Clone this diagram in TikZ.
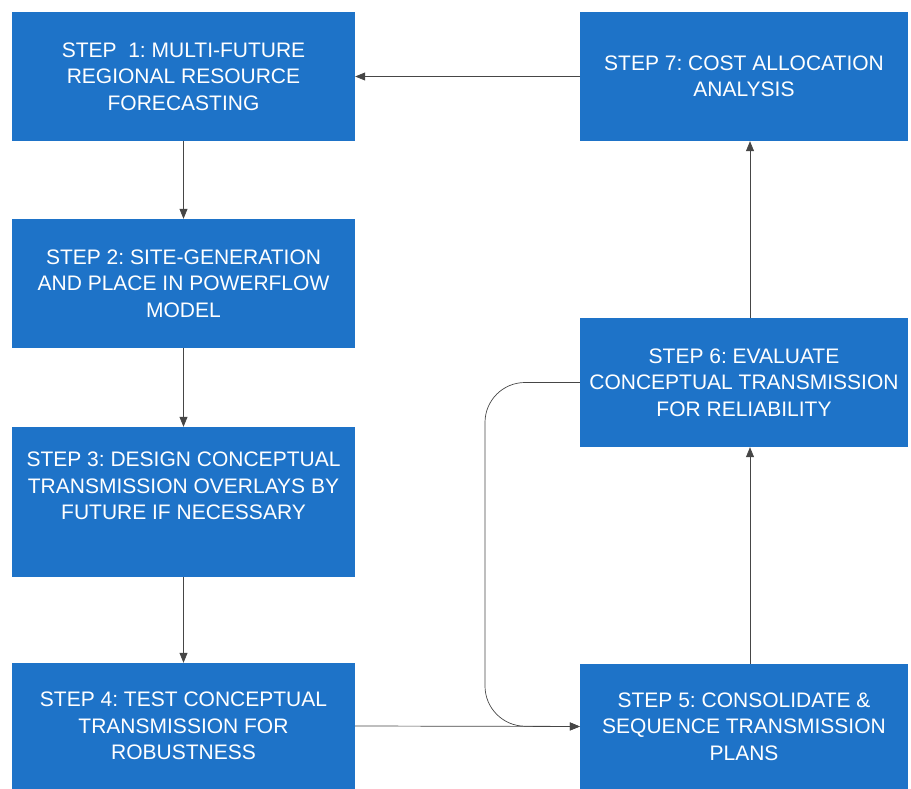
\documentclass[tikz,border=0pt]{standalone}
\usepackage{fontspec}
\setmainfont{Liberation Sans}
\usetikzlibrary{arrows.meta,positioning}
\definecolor{boxblue}{RGB}{30,115,200}
\definecolor{linegray}{RGB}{70,70,70}
\tikzset{
  stepbox/.style={fill=boxblue, draw=none, inner sep=0pt},
  steptext/.style={text=white, align=center, inner sep=0pt,
    font=\fontsize{21}{26.5}\selectfont},
  conn/.style={draw=linegray, line width=0.7pt, -{Triangle[length=10pt,width=8pt]}},
}
\begin{document}
\frenchspacing
\begin{tikzpicture}[x=1pt,y=-1pt]
\useasboundingbox (0,0) rectangle (911,789);
% left column
\node[stepbox, minimum width=343pt, minimum height=129pt] (s1) at (183.5,76.5) {};
\node[steptext] (t1) at (s1) {STEP\ \ 1: MULTI-FUTURE\\REGIONAL RESOURCE\\FORECASTING};
\node[stepbox, minimum width=343pt, minimum height=129pt] (s2) at (183.5,283.5) {};
\node[steptext] (t2) at (s2) {STEP 2: SITE-GENERATION\\AND PLACE IN POWERFLOW\\MODEL};
\node[stepbox, minimum width=343pt, minimum height=150pt] (s3) at (183.5,502) {};
\node[steptext] (t3) at (183.5,486) {STEP 3: DESIGN CONCEPTUAL\\TRANSMISSION OVERLAYS BY\\FUTURE IF NECESSARY};
\node[stepbox, minimum width=343pt, minimum height=126pt] (s4) at (183.5,726) {};
\node[steptext] (t4) at (s4) {STEP 4: TEST CONCEPTUAL\\TRANSMISSION FOR\\ROBUSTNESS};
% right column
\node[stepbox, minimum width=328pt, minimum height=129pt] (s7) at (744,76.5) {};
\node[steptext] (t7) at (s7) {STEP 7: COST ALLOCATION\\ANALYSIS};
\node[stepbox, minimum width=328pt, minimum height=129pt] (s6) at (744,382.5) {};
\node[steptext] (t6) at (s6) {STEP 6: EVALUATE\\CONCEPTUAL TRANSMISSION\\FOR RELIABILITY};
\node[stepbox, minimum width=328pt, minimum height=125pt] (s5) at (744,726.5) {};
\node[steptext] (t5) at (s5) {STEP 5: CONSOLIDATE \&\\SEQUENCE TRANSMISSION\\PLANS};
% connectors
\draw[conn] (s7.west) -- (s1.east);
\draw[conn] (s1.south) -- (s2.north);
\draw[conn] (s2.south) -- (s3.north);
\draw[conn] (s3.south) -- (s4.north);
\draw[conn] (s4.east) -- (s5.west);
\draw[conn] (s5.north -| 750,0) -- (s6.south -| 750,0);
\draw[conn] (s6.north -| 750,0) -- (s7.south -| 750,0);
\coordinate (c1) at (485,382.5);
\coordinate (c2) at (485,726);
\draw[conn, rounded corners=40pt] (s6.west) -- (c1) -- (c2) -- (s5.west);
\end{tikzpicture}
\end{document}
